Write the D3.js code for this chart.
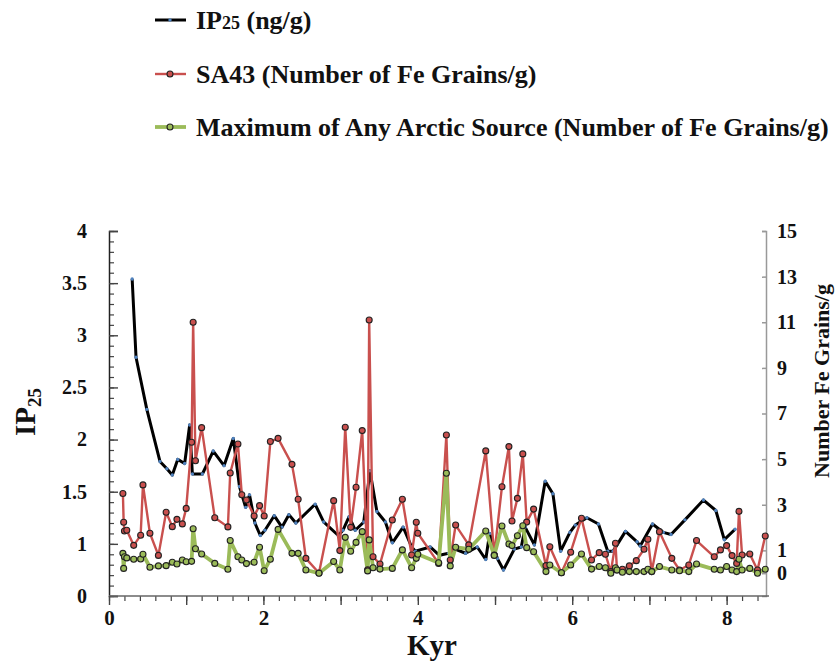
<!DOCTYPE html>
<html><head><meta charset="utf-8">
<script src="https://cdn.jsdelivr.net/npm/d3@7"></script>
<style>
body{margin:0;background:#fff;}
svg{display:block;font-family:"Liberation Serif","Times New Roman",serif;font-weight:bold;}
</style></head>
<body><svg id="c" width="836" height="664"></svg>
<script>
// ---- data ----
const ipAge = [0.30,0.35,0.49,0.66,0.75,0.82,0.89,0.98,1.045,1.08,1.21,1.35,1.49,1.61,1.69,1.77,1.82,1.89,1.96,2.02,2.14,2.24,2.33,2.42,2.67,2.78,2.97,3.03,3.11,3.19,3.30,3.38,3.47,3.58,3.67,3.81,3.92,3.97,4.16,4.28,4.40,4.48,4.62,4.77,4.88,4.93,5.03,5.11,5.25,5.34,5.39,5.51,5.65,5.75,5.85,5.97,6.04,6.19,6.34,6.46,6.53,6.69,6.84,6.88,7.04,7.18,7.28,7.46,7.70,7.86,7.97,8.11];
const ip25 = [3.54,2.79,2.29,1.79,1.72,1.66,1.81,1.77,2.14,1.67,1.67,1.89,1.75,2.01,1.55,1.35,1.47,1.20,1.08,1.13,1.27,1.16,1.28,1.20,1.38,1.21,1.08,1.13,1.26,1.13,1.21,1.70,1.31,1.21,1.01,1.16,0.97,0.93,0.97,0.89,0.91,0.95,0.91,0.97,0.85,1.10,0.86,0.75,0.95,0.97,1.16,0.99,1.60,1.48,0.93,1.11,1.18,1.25,1.19,0.93,0.93,1.12,1.02,0.98,1.19,1.11,1.09,1.23,1.42,1.32,1.04,1.14];

const feAge = [0.18,0.19,0.20,0.23,0.32,0.41,0.44,0.53,0.64,0.74,0.82,0.88,0.95,1.00,1.07,1.09,1.12,1.20,1.37,1.54,1.57,1.67,1.72,1.78,1.88,1.95,2.01,2.09,2.19,2.37,2.45,2.55,2.72,2.91,2.99,3.06,3.13,3.20,3.28,3.35,3.37,3.42,3.51,3.67,3.80,3.92,3.98,4.00,4.27,4.37,4.42,4.49,4.66,4.88,4.99,5.09,5.18,5.22,5.29,5.36,5.41,5.50,5.66,5.71,5.86,5.98,6.12,6.25,6.35,6.43,6.50,6.56,6.58,6.65,6.74,6.83,6.93,6.98,7.03,7.13,7.29,7.39,7.51,7.61,7.84,7.92,8.00,8.07,8.13,8.16,8.20,8.30,8.40,8.50];
const sa43 = [3.49,2.23,1.85,1.88,1.22,1.66,3.87,1.75,0.78,2.67,2.04,2.36,2.16,2.84,5.74,11.0,4.93,6.38,2.43,2.03,4.39,5.66,3.44,3.21,2.51,2.96,2.51,5.77,5.91,4.77,3.24,0.65,0.01,3.18,0.99,6.40,2.01,3.77,6.25,0.15,11.1,0.72,0.40,2.33,3.24,0.80,2.23,1.75,0.43,6.06,0.58,2.11,1.24,5.36,0.80,3.79,5.55,2.29,3.28,5.23,2.24,2.81,0.33,1.16,0.02,0.92,2.41,0.58,0.90,0.83,0.07,1.31,0.14,0.17,0.32,0.55,1.05,1.49,0.07,1.82,0.65,0.14,0.36,1.43,0.72,1.02,1.21,0.77,0.43,2.71,0.80,0.84,0.14,1.63];
const arctic = [0.87,0.21,0.72,0.67,0.61,0.62,0.83,0.26,0.32,0.33,0.48,0.40,0.58,0.50,0.52,1.95,1.07,0.84,0.43,0.17,1.43,0.72,0.58,0.42,0.48,1.14,0.11,0.61,1.92,0.87,0.87,0.14,0.00,0.51,0.14,1.57,0.96,1.35,1.82,0.10,1.46,0.24,0.18,0.21,1.02,0.24,0.65,0.83,0.46,4.38,0.32,1.14,1.05,1.85,0.78,2.07,1.28,1.21,1.64,2.08,1.12,0.94,0.07,0.36,0.02,0.36,0.84,0.18,0.29,0.24,0.00,0.24,0.14,0.04,0.07,0.07,0.07,0.17,0.07,0.29,0.14,0.11,0.07,0.40,0.17,0.14,0.29,0.14,0.07,0.61,0.14,0.21,0.00,0.17];

const leftTickValues = [0.5,1,1.5,2,2.5,3,3.5,4];
const leftTickLabels = ["0","1","1.5","2","2.5","3","3.5","4"];
const rightTickValues = [0,1,3,5,7,9,11,13,15];
const xLabelTicks = [0,2,4,6,8];
const legendLabels = ["IP25 (ng/g)","SA43 (Number of Fe Grains/g)","Maximum of Any Arctic Source (Number of Fe Grains/g)"];

// ---- layout ----
const svg = d3.select("#c");
const L=109, R=766, T=231, B=596;
const x = d3.scaleLinear().domain([0,8.51]).range([L,R]);
const yL = d3.scaleLinear().domain([0.5,4]).range([B,T]);
const yR = d3.scaleLinear().domain([-1,15]).range([B,T]);

const colBlack="#000", colBlue="#4f81bd", colRed="#c9504e", colGreen="#9bbb59";
const FF = "Liberation Serif";

// right axis (gray)
const rAx = svg.append("g").attr("transform",`translate(${R},0)`)
  .call(d3.axisLeft(yR).tickValues(rightTickValues).tickSize(4).tickFormat(""));
rAx.selectAll("path,line").attr("stroke","#999").attr("stroke-width",1.5);
const rLab = svg.append("g").attr("transform",`translate(${R},0)`)
  .call(d3.axisRight(yR).tickValues(rightTickValues).tickSize(0).tickPadding(11).tickFormat(d3.format("d")));
rLab.select(".domain").remove();
rLab.attr("font-family",FF).attr("font-size",20);
rLab.selectAll("text").attr("font-weight","bold").attr("fill","#111");

// left axis
const lMinor = svg.append("g").attr("transform",`translate(${L},0)`)
  .call(d3.axisRight(yL).tickValues(d3.range(5,41).map(v=>v/10)).tickSize(5).tickFormat(""));
lMinor.selectAll("line").attr("stroke","#444").attr("stroke-width",1.2);
lMinor.select(".domain").remove();
const lMajor = svg.append("g").attr("transform",`translate(${L},0)`)
  .call(d3.axisRight(yL).tickValues(leftTickValues).tickSize(9).tickFormat(""));
lMajor.selectAll("line").attr("stroke","#444").attr("stroke-width",1.4);
lMajor.select(".domain").attr("stroke","#222").attr("stroke-width",1.5);
const lLab = svg.append("g").attr("transform",`translate(${L},0)`)
  .call(d3.axisLeft(yL).tickValues(leftTickValues).tickSize(0).tickPadding(22)
        .tickFormat((d,i)=>leftTickLabels[i]));
lLab.select(".domain").remove();
lLab.attr("font-family",FF).attr("font-size",20);
lLab.selectAll("text").attr("font-weight","bold").attr("fill","#111");

// x axis
const xMinor = svg.append("g").attr("transform",`translate(0,${B})`)
  .call(d3.axisBottom(x).tickValues(d3.range(0,43).map(v=>v/5)).tickSize(5).tickFormat(""));
xMinor.selectAll("line").attr("stroke","#444").attr("stroke-width",1.2);
xMinor.select(".domain").remove();
const xMajor = svg.append("g").attr("transform",`translate(0,${B})`)
  .call(d3.axisBottom(x).tickValues(d3.range(0,9)).tickSize(9).tickFormat(""));
xMajor.selectAll("line").attr("stroke","#444").attr("stroke-width",1.4);
xMajor.select(".domain").attr("stroke","#666").attr("stroke-width",1.5).attr("d",`M${L},0H${R+3}`);
const xLab = svg.append("g").attr("transform",`translate(0,${B})`)
  .call(d3.axisBottom(x).tickValues(xLabelTicks).tickSize(0).tickPadding(14).tickFormat(d3.format("d")));
xLab.select(".domain").remove();
xLab.attr("font-family",FF).attr("font-size",21);
xLab.selectAll("text").attr("font-weight","bold").attr("fill","#111");

// series
const ipData = ipAge.map((a,i)=>({a, v:ip25[i]}));
const saData = feAge.map((a,i)=>({a, v:sa43[i]}));
const arData = feAge.map((a,i)=>({a, v:arctic[i]}));

const lineL = d3.line().x(d=>x(d.a)).y(d=>yL(d.v));
const lineR = d3.line().x(d=>x(d.a)).y(d=>yR(d.v));

const gData = svg.append("g");
gData.append("path").datum(ipData).attr("d",lineL).attr("fill","none").attr("stroke",colBlack).attr("stroke-width",3).attr("stroke-linejoin","round");
gData.selectAll(".ipd").data(ipData).join("circle").attr("class","ipd")
  .attr("cx",d=>x(d.a)).attr("cy",d=>yL(d.v)).attr("r",1.7).attr("fill",colBlue);

gData.append("path").datum(saData).attr("d",lineR).attr("fill","none").attr("stroke",colRed).attr("stroke-width",2.4).attr("stroke-linejoin","round");
gData.append("path").datum(arData).attr("d",lineR).attr("fill","none").attr("stroke",colGreen).attr("stroke-width",3.8).attr("stroke-linejoin","round");
gData.selectAll(".sad").data(saData).join("circle").attr("class","sad")
  .attr("cx",d=>x(d.a)).attr("cy",d=>yR(d.v)).attr("r",3).attr("fill",colRed).attr("stroke","#222").attr("stroke-width",1.1);
gData.selectAll(".ard").data(arData).join("circle").attr("class","ard")
  .attr("cx",d=>x(d.a)).attr("cy",d=>yR(d.v)).attr("r",3).attr("fill",colGreen).attr("stroke","#222").attr("stroke-width",1.1);

// axis titles
const tl = svg.append("text").attr("transform","translate(35,412) rotate(-90)").attr("text-anchor","middle")
  .attr("font-size",29).attr("fill","#111");
tl.append("tspan").text("IP");
tl.append("tspan").text("25").attr("font-size",19).attr("dy",6);
svg.append("text").attr("x",432).attr("y",655).attr("text-anchor","middle").attr("font-size",29).attr("fill","#111").text("Kyr");
svg.append("text").attr("transform","translate(829,381) rotate(-90)").attr("text-anchor","middle")
  .attr("font-size",22).attr("fill","#111").text("Number Fe Grains/g");

// legend
const legY = [20,74,127];
const legCol = [colBlack,colRed,colGreen];
const legW = [3,2.4,3.8];
const lg = svg.append("g");
legendLabels.forEach((lab,i)=>{
  const g = lg.append("g").attr("transform",`translate(0,${legY[i]})`);
  g.append("line").attr("x1",155).attr("x2",186).attr("y1",0).attr("y2",0).attr("stroke",legCol[i]).attr("stroke-width",legW[i]);
  if(i===0) g.append("circle").attr("cx",170).attr("cy",0).attr("r",1.7).attr("fill",colBlue);
  else g.append("circle").attr("cx",170).attr("cy",0).attr("r",3).attr("fill",legCol[i]).attr("stroke","#222").attr("stroke-width",1.1);
  const t = g.append("text").attr("x",196).attr("y",9).attr("font-size",26).attr("fill","#111");
  if(i===0){
    t.append("tspan").text("IP");
    t.append("tspan").text("25").attr("font-size",18);
    t.append("tspan").text(" (ng/g)");
  } else t.text(lab);
});
</script></body></html>
